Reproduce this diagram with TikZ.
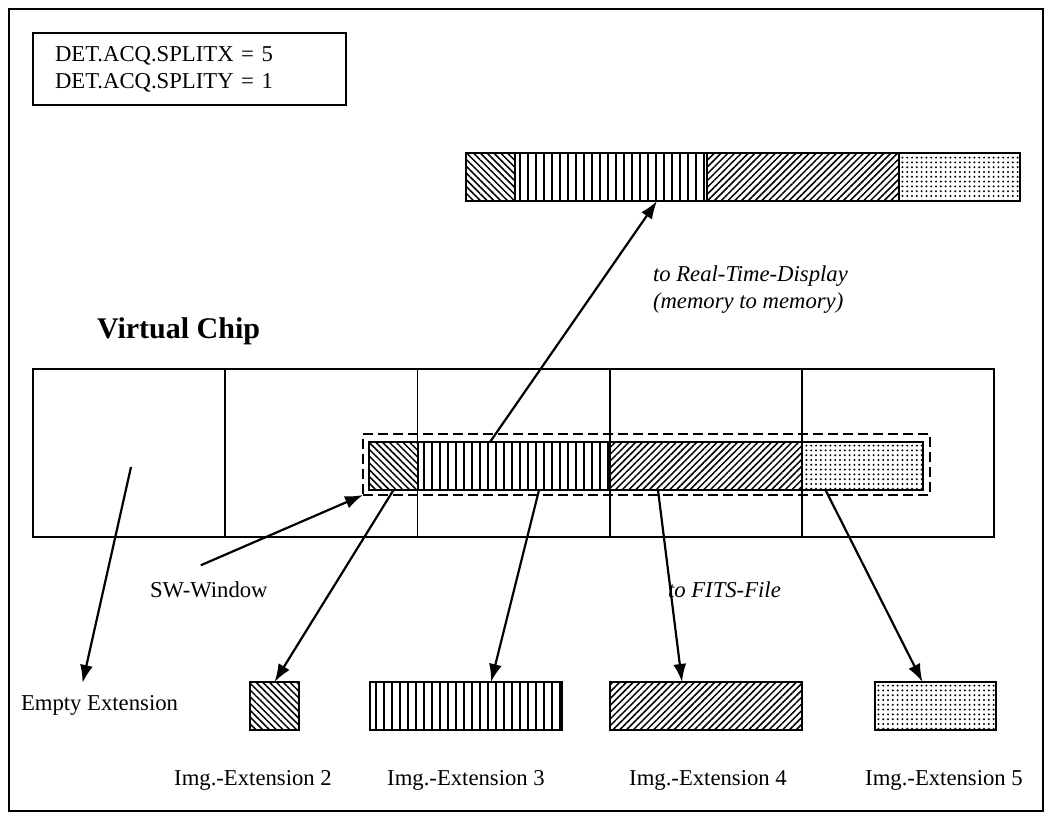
\documentclass[tikz,border=0pt]{standalone}
\usepackage{fontspec}
\setmainfont{Liberation Serif}
\usetikzlibrary{positioning,patterns.meta,arrows.meta}

\begin{document}
\begin{tikzpicture}[
x=1pt, y=-1pt,
every node/.style={
inner sep=0pt,
outer sep=0pt,
font=\fontsize{22.7}{27}\selectfont
},
cell/.style={draw, line width=1.8pt, minimum width=192.2pt, minimum height=168pt},
seg/.style={draw, line width=2pt, minimum height=48pt, anchor=north west},
hatchL/.style={seg, minimum width=49pt, pattern={Lines[angle=-45,distance=4.8pt,line width=1.5pt]}},
hatchV/.style={seg, minimum width=192pt, pattern={Lines[angle=90,distance=8pt,line width=1.6pt]}},
hatchR/.style={seg, minimum width=192pt, pattern={Lines[angle=45,distance=4.8pt,line width=1.5pt]}},
hatchD/.style={seg, minimum width=121pt, pattern={Dots[radius=1.1pt,distance=4.8pt]}},
arrow/.style={-{Latex[length=18pt,width=13pt]}, line width=2.2pt}
]

\useasboundingbox (0,0) rectangle (1052,820);

\node[draw, line width=1.8pt, minimum width=1034pt, minimum height=802pt,
anchor=north west] (frame) at (9,9) {};

\node[draw, line width=1.8pt, anchor=north west, minimum width=313pt,
minimum height=72pt, inner xsep=22pt, text width=269pt, align=left] (split) at (33,33)
{DET.ACQ.SPLITX = 5\\DET.ACQ.SPLITY = 1};

% real-time display
\node[hatchL] (t1) at (466,153) {};
\node[hatchV, right=0pt of t1] (t2) {};
\node[hatchR, right=0pt of t2] (t3) {};
\node[hatchD, right=0pt of t3] (t4) {};

\node[anchor=north west, align=left, font=\fontsize{22.7}{27}\selectfont\itshape] (rtd) at (653,265.5)
{to Real-Time-Display\\(memory to memory)};

\node[anchor=base west, font=\fontsize{30}{36}\selectfont\bfseries] (vchip) at (97,338)
{Virtual Chip};

% virtual chip
\node[cell, anchor=north west] (c1) at (33,369) {};
\node[cell, right=0pt of c1] (c2) {};
\node[cell, right=0pt of c2] (c3) {};
\node[cell, right=0pt of c3] (c4) {};
\node[cell, right=0pt of c4] (c5) {};

% sw-window
\node[draw, dash pattern=on 10pt off 5pt, line width=2pt, anchor=north west,
minimum width=567pt, minimum height=61pt] (swwin) at (363,434) {};
\node[hatchL] (w1) at (369,442) {};
\node[hatchV, right=0pt of w1] (w2) {};
\node[hatchR, right=0pt of w2] (w3) {};
\node[hatchD, right=0pt of w3] (w4) {};

\node[anchor=base west] (sw) at (150,597) {SW-Window};
\node[anchor=base west, font=\fontsize{22.7}{27}\selectfont\itshape] (fits) at (668,597) {to FITS-File};
\node[anchor=base west] (empty) at (21,710) {Empty Extension};

% extensions
\node[hatchL] (e2) at (250,682) {};
\node[hatchV] (e3) at (370,682) {};
\node[hatchR] (e4) at (610,682) {};
\node[hatchD] (e5) at (875,682) {};

\node[anchor=base] (l2) at (253,785) {Img.-Extension 2};
\node[anchor=base] (l3) at (466,785) {Img.-Extension 3};
\node[anchor=base] (l4) at (708,785) {Img.-Extension 4};
\node[anchor=base] (l5) at (944,785) {Img.-Extension 5};

\coordinate (c1in) at (131,467);

\draw[arrow] ([xshift=-24pt]w2.north) -- ([xshift=46pt]t2.south);
\draw[arrow] (c1in) -- ([shift={(-17pt,12pt)}]empty.north);
\draw[arrow] ([shift={(-8pt,16pt)}]sw.north) -- (swwin.south west);
\draw[arrow] (w1.south) -- (e2.north);
\draw[arrow] ([xshift=25pt]w2.south) -- ([xshift=25pt]e3.north);
\draw[arrow] ([xshift=-48pt]w3.south) -- ([xshift=-24pt]e4.north);
\draw[arrow] ([xshift=-37pt]w4.south) -- ([xshift=-13pt]e5.north);

\end{tikzpicture}
\end{document}
